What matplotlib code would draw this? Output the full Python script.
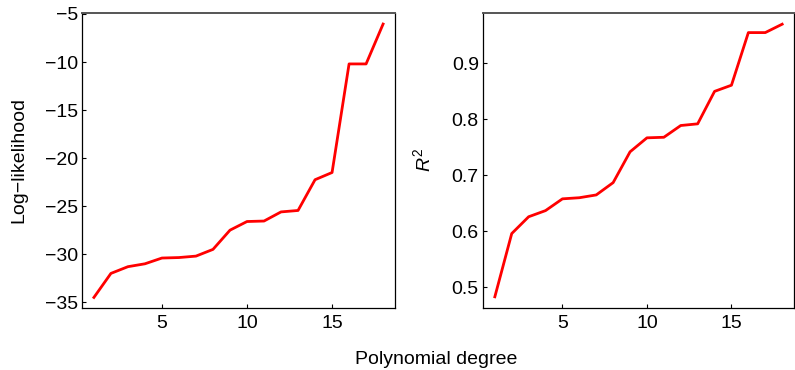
import numpy as np
import matplotlib.pyplot as plt

plt.rcParams['font.family'] = ['Liberation Sans', 'DejaVu Sans']
plt.rcParams['mathtext.fontset'] = 'custom'
plt.rcParams['mathtext.rm'] = 'Liberation Sans'
plt.rcParams['mathtext.it'] = 'Liberation Sans:italic'

degree = np.arange(1, 19)
log_lik = [-34.5, -32.0, -31.3, -31.0, -30.4, -30.35, -30.2, -29.5, -27.5, -26.6,
           -26.55, -25.6, -25.45, -22.25, -21.5, -10.2, -10.2, -6.05]
r2 = [0.483, 0.596, 0.626, 0.637, 0.658, 0.660, 0.665, 0.687, 0.742, 0.767,
      0.768, 0.789, 0.792, 0.850, 0.861, 0.955, 0.955, 0.970]

W, H = 795, 370
fs = 14
fig = plt.figure(figsize=(W / 100, H / 100), dpi=100)

ax1 = fig.add_axes([82 / W, 62 / H, 313 / W, 295 / H])
ax2 = fig.add_axes([483 / W, 62 / H, 311 / W, 295 / H])

for ax, y in ((ax1, log_lik), (ax2, r2)):
    ax.plot(degree, y, color='#ff0000', lw=2.0)
    ax.set_xlim(0.3, 18.7)
    ax.set_xticks([5, 10, 15])
    ax.tick_params(direction='in', length=3, width=0.8, labelsize=fs, colors='black')
    ax.tick_params(axis='x', pad=5)
    ax.tick_params(axis='y', pad=3)
    for s in ('left', 'bottom', 'right'):
        ax.spines[s].set_linewidth(0.9)
    ax.spines['top'].set_linewidth(1.4)
    ax.spines['top'].set_color('#555555')

ax1.set_ylim(-35.6, -4.9)
ax1.set_yticks([-35, -30, -25, -20, -15, -10, -5])
ax1.set_yticklabels(['\u221235', '\u221230', '\u221225', '\u221220', '\u221215', '\u221210', '\u22125'])

ax2.set_ylim(0.463, 0.99)
ax2.set_yticks([0.5, 0.6, 0.7, 0.8, 0.9])

fig.text(19 / W, 1 - 160 / H, 'Log\u2212likelihood', rotation=90, ha='center', va='center', fontsize=fs)
fig.text(423 / W, 1 - 160 / H, '$R^2$', rotation=90, ha='center', va='center', fontsize=fs)
fig.text(436 / W, 1 - 359 / H, 'Polynomial degree', ha='center', va='center', fontsize=fs)

fig.savefig('out.png', dpi=100)
